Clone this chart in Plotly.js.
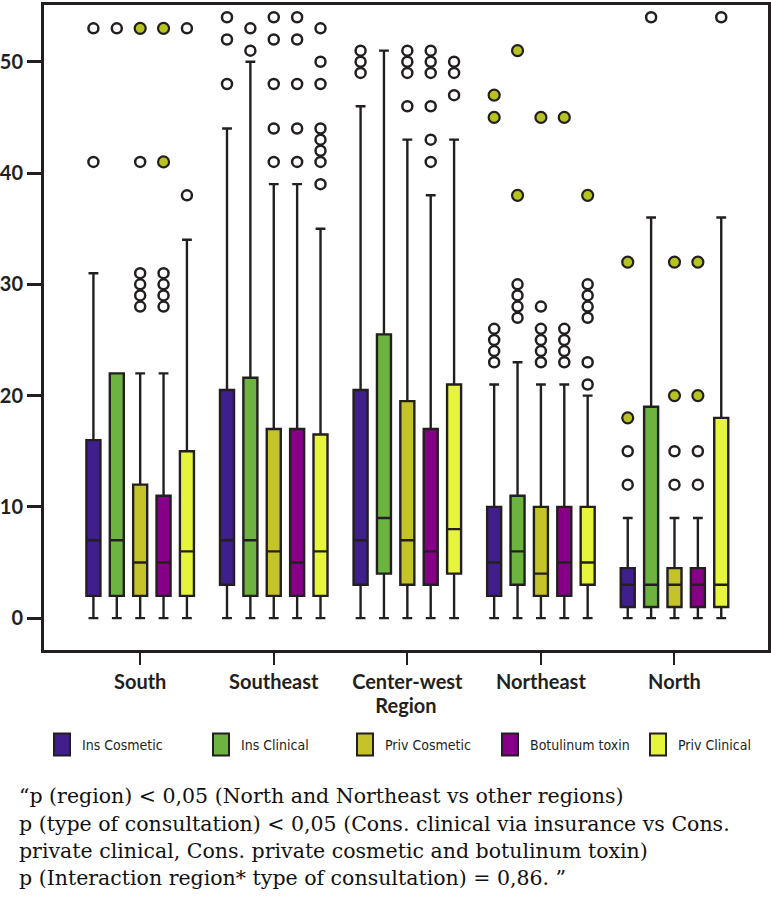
<!DOCTYPE html>
<html>
<head>
<meta charset="utf-8">
<script src="https://cdn.plot.ly/plotly-3.0.1.min.js"></script>
<style>
  html, body { margin: 0; padding: 0; background: #fff; }
  #chart { width: 771px; height: 917px; }
</style>
</head>
<body>
<div id="chart"></div>
<script>
// rows = consultation type, columns = region
const regions = ['South', 'Southeast', 'Center-west', 'Northeast', 'North'];
const consultTypes = ['Ins Cosmetic', 'Ins Clinical', 'Priv Cosmetic', 'Botulinum toxin', 'Priv Clinical'];

const lowerFence = [
    [0, 0, 0, 0, 0],
    [0, 0, 0, 0, 0],
    [0, 0, 0, 0, 0],
    [0, 0, 0, 0, 0],
    [0, 0, 0, 0, 0]
];
const q1 = [
    [2, 3, 3, 2, 1],
    [2, 2, 4, 3, 1],
    [2, 2, 3, 2, 1],
    [2, 2, 3, 2, 1],
    [2, 2, 4, 3, 1]
];
const medians = [
    [7, 7, 7, 5, 3],
    [7, 7, 9, 6, 3],
    [5, 6, 7, 4, 3],
    [5, 5, 6, 5, 3],
    [6, 6, 8, 5, 3]
];
const q3 = [
    [16, 20.5, 20.5, 10, 4.5],
    [22, 21.6, 25.5, 11, 19],
    [12, 17, 19.5, 10, 4.5],
    [11, 17, 17, 10, 4.5],
    [15, 16.5, 21, 10, 18]
];
const upperFence = [
    [31, 44, 46, 21, 9],
    [22, 50, 51, 23, 36],
    [22, 39, 43, 21, 9],
    [22, 39, 38, 21, 9],
    [34, 35, 43, 20, 36]
];
// open circles
const mildOutliers = [
    [[41, 53], [48, 52, 54], [49, 50, 51], [23, 24, 25, 26], [12, 15]],
    [[53], [51, 53], [], [27, 28, 29, 30], [54]],
    [[28, 29, 30, 31, 41], [41, 44, 48, 52, 54], [46, 49, 50, 51], [23, 24, 25, 26, 28], [12, 15]],
    [[28, 29, 30, 31], [41, 44, 48, 52, 54], [41, 43, 46, 49, 50, 51], [23, 24, 25, 26], [12, 15]],
    [[38, 53], [39, 41, 42, 43, 44, 48, 50, 53], [47, 49, 50], [21, 23, 27, 28, 29, 30], [54]]
];
// filled circles
const extremeOutliers = [
    [[], [], [], [45, 47], [18, 32]],
    [[], [], [], [38, 51], []],
    [[53], [], [], [45], [20, 32]],
    [[41, 53], [], [], [45], [20, 32]],
    [[], [], [], [38], []]
];

const COLORS = ['#3f1f8c', '#6cb33f', '#c4c42a', '#860087', '#e6f53c'];
const INK = '#231f20';
const STEP = 0.175;

function slot(r, t) {
    return r + (t - 2) * STEP;
}

const traces = consultTypes.map((name, t) => ({
    type: 'box',
    name: name,
    showlegend: false,
    x: regions.map((_, r) => slot(r, t)),
    lowerfence: lowerFence[t],
    q1: q1[t],
    median: medians[t],
    q3: q3[t],
    upperfence: upperFence[t],
    boxpoints: false,
    width: 0.105,
    whiskerwidth: 0.7,
    fillcolor: COLORS[t],
    line: { color: INK, width: 2.4 },
    hoverinfo: 'skip'
}));

function flatten(table) {
    const xs = [], ys = [];
    table.forEach((row, t) => row.forEach((vals, r) => vals.forEach(v => {
        xs.push(slot(r, t));
        ys.push(v);
    })));
    return { xs, ys };
}

const mild = flatten(mildOutliers);
const extreme = flatten(extremeOutliers);

traces.push({
    type: 'scatter', mode: 'markers', showlegend: false, hoverinfo: 'skip', cliponaxis: false,
    x: mild.xs, y: mild.ys,
    marker: { symbol: 'circle', size: 10, color: '#ffffff', line: { color: INK, width: 2.5 } }
});
traces.push({
    type: 'scatter', mode: 'markers', showlegend: false, hoverinfo: 'skip', cliponaxis: false,
    x: extreme.xs, y: extreme.ys,
    marker: { symbol: 'circle', size: 11, color: '#b7c31f', line: { color: INK, width: 2.2 } }
});

const noteLines = [
    '\u201cp (region) < 0,05 (North and Northeast vs other regions)',
    'p (type of consultation) < 0,05 (Cons. clinical via insurance vs Cons.',
    'private clinical, Cons. private cosmetic and botulinum toxin)',
    'p (Interaction region* type of consultation) = 0,86. \u201d'
];

const labelFont = { family: 'Lato, "Open Sans", sans-serif', size: 20, color: INK, weight: 'bold' };

// legend drawn below the axis: one swatch + label per consultation type
const PLOT_L = 44, PLOT_W = 724, PLOT_B = 650, PLOT_H = 648;
const px = v => (v - PLOT_L) / PLOT_W;
const py = v => (PLOT_B - v) / PLOT_H;
const legendCenters = [62, 221, 365, 510, 658];
const LEGEND_Y = 745;

const legendShapes = consultTypes.map((_, t) => ({
    type: 'rect', xref: 'paper', yref: 'paper',
    x0: px(legendCenters[t] - 8), x1: px(legendCenters[t] + 8),
    y0: py(LEGEND_Y + 11), y1: py(LEGEND_Y - 11),
    fillcolor: COLORS[t], line: { color: INK, width: 2 }
}));
const legendLabels = consultTypes.map((name, t) => ({
    xref: 'paper', yref: 'paper',
    x: px(legendCenters[t] + 18), xanchor: 'left',
    y: py(LEGEND_Y), yanchor: 'middle',
    text: name, showarrow: false,
    font: { family: '"Liberation Sans Narrow", "DejaVu Sans Condensed", sans-serif', size: 14, color: INK }
}));

const noteAnnotations = noteLines.map((text, i) => ({
    xref: 'paper', yref: 'paper',
    x: px(17), xanchor: 'left',
    y: py(797 + i * 27.5), yanchor: 'middle',
    text: text, showarrow: false, align: 'left',
    font: { family: '"DejaVu Serif", serif', size: 20.5, color: '#111111' }
}));

const layout = {
    width: 771,
    height: 917,
    margin: { l: 44, r: 3, t: 2, b: 267 },
    paper_bgcolor: '#ffffff',
    plot_bgcolor: '#ffffff',
    showlegend: false,
    boxmode: 'overlay',
    xaxis: {
        range: [-0.72, 4.70],
        tickvals: regions.map((_, i) => i),
        ticktext: regions,
        ticks: 'outside', ticklen: 12, tickwidth: 2, tickcolor: INK,
        showline: true, mirror: true, linewidth: 3, linecolor: INK,
        showgrid: false, zeroline: false,
        tickfont: labelFont,
        automargin: true,
        title: { text: 'Region', font: labelFont, standoff: 6 }
    },
    yaxis: {
        range: [-2.86, 55.1],
        tickvals: [0, 10, 20, 30, 40, 50],
        ticks: 'outside', ticklen: 14, tickwidth: 3, tickcolor: INK,
        showline: true, mirror: true, linewidth: 3, linecolor: INK,
        showgrid: false, zeroline: false,
        automargin: false,
        tickfont: labelFont
    },
    shapes: legendShapes,
    annotations: legendLabels.concat(noteAnnotations)
};

Plotly.newPlot('chart', traces, layout, { displayModeBar: false, staticPlot: true });
</script>
</body>
</html>
